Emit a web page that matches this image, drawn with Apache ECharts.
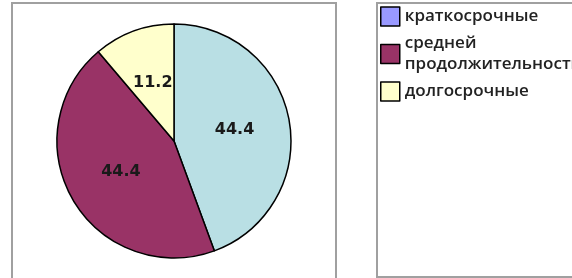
<!DOCTYPE html>
<html>
<head>
<meta charset="UTF-8">
<title>pie</title>
<script src="https://cdn.jsdelivr.net/npm/echarts@6/dist/echarts.min.js"></script>
<style>
  body { margin: 0; background: #fff; }
  #chart { width: 572px; height: 278px; }
</style>
</head>
<body>
<div id="chart"></div>
<script type="text/javascript">
    // данные
    var names = ['краткосрочные', 'средней\nпродолжительности', 'долгосрочные'];
    var values = [44.4, 44.4, 11.2];
    var sliceColors = ['#b9dfe4', '#993366', '#ffffcc'];
    var legendColors = ['#9999ff', '#993366', '#ffffcc'];

    var chart = echarts.init(document.getElementById('chart'));

    var pieData = [];
    var legendData = [];
    for (var i = 0; i < names.length; i++) {
        pieData.push({ name: names[i], value: values[i], itemStyle: { color: sliceColors[i] } });
        legendData.push({ name: names[i], itemStyle: { color: legendColors[i], borderColor: '#000', borderWidth: 1.5 } });
    }

    var option = {
        animation: false,
        graphic: [
            { type: 'rect', shape: { x: 12, y: 3, width: 324, height: 290 },
              style: { fill: 'none', stroke: '#a0a0a0', lineWidth: 2 } },
            { type: 'rect', shape: { x: 377, y: 3, width: 220, height: 274 },
              style: { fill: 'none', stroke: '#a0a0a0', lineWidth: 2 } }
        ],
        legend: {
            orient: 'vertical',
            left: 380,
            top: 6,
            padding: 0,
            itemWidth: 19,
            itemHeight: 19,
            itemGap: 6,
            itemTextGap: 4,
            icon: 'rect',
            data: legendData,
            textStyle: {
                fontFamily: 'Open Sans',
                fontWeight: 600,
                fontSize: 17,
                color: '#222',
                lineHeight: 21
            }
        },
        series: [{
            type: 'pie',
            center: [174, 141],
            radius: 117,
            startAngle: 90,
            clockwise: true,
            data: pieData,
            itemStyle: { borderColor: '#000', borderWidth: 1.5 },
            label: {
                position: 'inside',
                formatter: '{c}',
                fontFamily: 'DejaVu Sans',
                fontWeight: 'bold',
                fontSize: 16,
                color: '#1a1a1a'
            },
            labelLine: { show: false },
            emphasis: { disabled: true }
        }]
    };
    chart.setOption(option);
</script>
</body>
</html>
